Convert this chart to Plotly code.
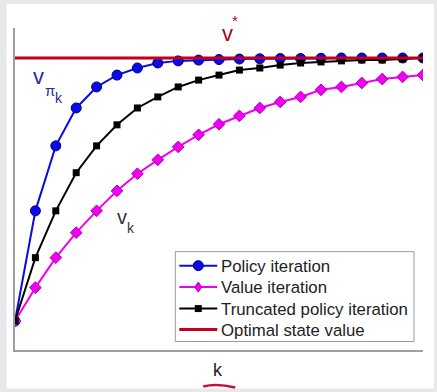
import plotly.graph_objects as go

k = list(range(21))
policy_iteration = [0.0, 0.419, 0.666, 0.810, 0.890, 0.935, 0.962, 0.981, 0.989, 0.992,
                    0.994, 0.996, 0.997, 0.998, 0.998, 0.999, 1.0, 1.0, 1.0, 1.0, 1.0]
value_iteration = [0.0, 0.127, 0.241, 0.336, 0.419, 0.495, 0.560, 0.613, 0.662, 0.708,
                   0.748, 0.780, 0.810, 0.833, 0.852, 0.879, 0.890, 0.905, 0.920, 0.928, 0.935]
truncated_policy_iteration = [0.0, 0.241, 0.419, 0.564, 0.666, 0.746, 0.810, 0.852, 0.890, 0.916,
                              0.935, 0.954, 0.962, 0.973, 0.981, 0.985, 0.989, 0.992, 0.992, 0.996, 1.0]
optimal_value = [1.0] * 21
legend_names = ["Policy iteration", "Value iteration", "Truncated policy iteration", "Optimal state value"]

W, H = 437, 392
L, R, T, B = 14.5, 14, 28, 41.5
pw, ph = W - L - R, H - T - B


def px(x):
    return (x - L) / pw


def py(y):
    return (H - B - y) / ph


BLUE, BLUE_EDGE = "#0a0ae6", "#00007a"
MAG, MAG_EDGE = "#f000f0", "#b000b0"
BLACK = "#000000"
RED = "#c0001e"

fig = go.Figure()
fig.add_trace(go.Scatter(
    x=k, y=policy_iteration, name=legend_names[0], mode="lines+markers",
    line=dict(color=BLUE, width=2),
    marker=dict(symbol="circle", size=10, color=BLUE, line=dict(color=BLUE_EDGE, width=1)),
))
fig.add_trace(go.Scatter(
    x=k, y=value_iteration, name=legend_names[1], mode="lines+markers",
    line=dict(color=MAG, width=2),
    marker=dict(symbol="diamond", size=9, color=MAG, line=dict(color=MAG_EDGE, width=1)),
))
fig.add_trace(go.Scatter(
    x=k, y=truncated_policy_iteration, name=legend_names[2], mode="lines+markers",
    line=dict(color=BLACK, width=2),
    marker=dict(symbol="square", size=7, color=BLACK),
))
fig.add_trace(go.Scatter(
    x=k, y=optimal_value, name=legend_names[3], mode="lines",
    line=dict(color=RED, width=3),
))

font = "Liberation Sans, Arial, sans-serif"
ann = []


def add_text(text, cx, cy, size, color, anchor="center"):
    ann.append(dict(text=text, x=px(cx), y=py(cy), xref="paper", yref="paper",
                    xanchor=anchor, yanchor="middle", showarrow=False,
                    font=dict(family=font, size=size, color=color)))


add_text("v", 227, 34, 22, "#b0001a")
add_text("*", 235, 20, 15, "#b0001a")
add_text("v", 38, 77, 22, "#2a2a9e")
add_text("π", 49.5, 91, 15, "#2a2a9e")
add_text("k", 58.5, 98, 14, "#2a2a9e")
add_text("v", 122, 217, 20, "#333333")
add_text("k", 130.5, 228, 14, "#333333")
add_text("k", 218, 371, 18, "#222222")

shapes = [
    dict(type="rect", xref="paper", yref="paper", x0=px(6), x1=px(434), y0=py(389), y1=py(4),
         fillcolor="white", line=dict(width=0), layer="below"),
    dict(type="path", xref="paper", yref="paper",
         path=f"M{px(203)},{py(387)} Q{px(216)},{py(383.5)} {px(235)},{py(388)}",
         line=dict(color="#c01040", width=2.5)),
    # legend box
    dict(type="rect", xref="paper", yref="paper", x0=px(175), x1=px(414), y0=py(342), y1=py(252),
         fillcolor="white", line=dict(color="#999999", width=1)),
]

# manual legend
item_y = [266, 287.5, 309, 330]
line_x0, line_x1, mk_x, text_x = 179, 217, 198, 219
styles = [(BLUE, 2), (MAG, 2), (BLACK, 2), (RED, 3)]
for yy, (col, wdt), name in zip(item_y, styles, legend_names):
    shapes.append(dict(type="line", xref="paper", yref="paper", x0=px(line_x0), x1=px(line_x1),
                       y0=py(yy), y1=py(yy), line=dict(color=col, width=wdt)))
    add_text(name, text_x, yy + 0.5, 16.8, "#222222", anchor="left")
# legend markers
yy = item_y[0]
shapes.append(dict(type="circle", xref="paper", yref="paper", x0=px(mk_x - 5), x1=px(mk_x + 5),
                   y0=py(yy + 5), y1=py(yy - 5), fillcolor=BLUE, line=dict(color=BLUE_EDGE, width=1)))
yy = item_y[1]
shapes.append(dict(type="path", xref="paper", yref="paper",
                   path=f"M{px(mk_x)},{py(yy - 5)} L{px(mk_x + 3.5)},{py(yy)} L{px(mk_x)},{py(yy + 5)} "
                        f"L{px(mk_x - 3.5)},{py(yy)} Z",
                   fillcolor=MAG, line=dict(color=MAG_EDGE, width=1)))
yy = item_y[2]
shapes.append(dict(type="rect", xref="paper", yref="paper", x0=px(mk_x - 3.5), x1=px(mk_x + 3.5),
                   y0=py(yy + 3.5), y1=py(yy - 3.5), fillcolor=BLACK, line=dict(width=0)))

fig.update_layout(
    width=W, height=H,
    margin=dict(l=L, r=R, t=T, b=B, pad=0),
    paper_bgcolor="#e8e8ea", plot_bgcolor="white",
    font=dict(family=font, size=16, color="#222222"),
    showlegend=False,
    annotations=ann, shapes=shapes,
)
fig.update_xaxes(range=[0, 20], showgrid=False, zeroline=False, showticklabels=False,
                 ticks="", showline=True, linecolor="#a0a0a0", linewidth=1.5)
fig.update_yaxes(range=[-0.110, 1.114], showgrid=False, zeroline=False, showticklabels=False,
                 ticks="", showline=True, linecolor="#a0a0a0", linewidth=1.5)

fig.write_html("out.html", config={"displayModeBar": False},
               post_script="document.body.style.margin='0';")
